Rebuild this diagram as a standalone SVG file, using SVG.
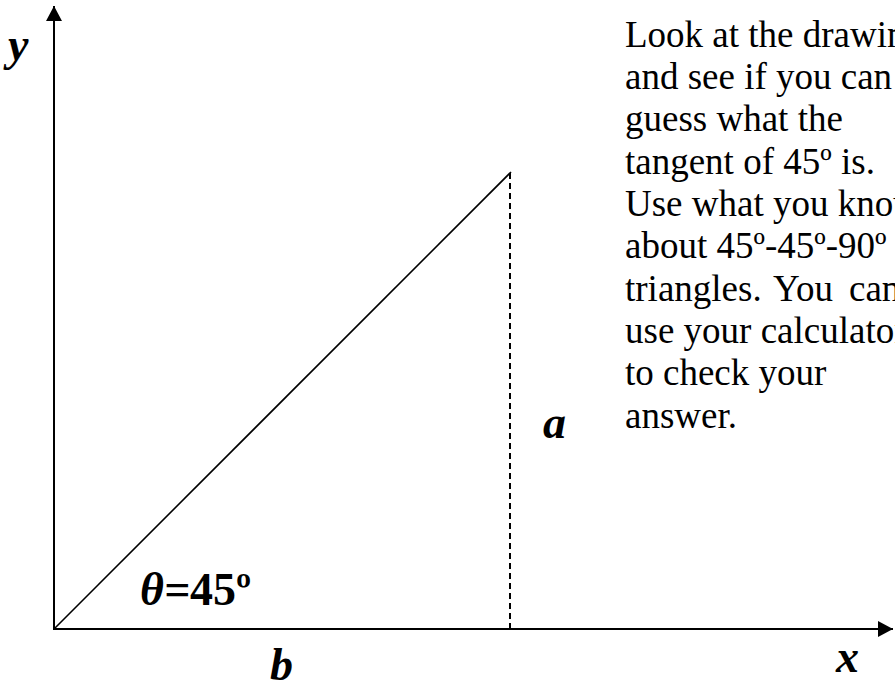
<svg xmlns="http://www.w3.org/2000/svg" width="895" height="685" viewBox="0 0 895 685">
<style>
.axis{stroke:#000;stroke-width:2;fill:none}
.hyp{stroke:#000;stroke-width:1.6;fill:none}
.dash{stroke:#000;stroke-width:2;stroke-dasharray:6 4;fill:none}
.lbl{font-family:"Liberation Serif","Times New Roman",serif;font-weight:bold;font-style:italic;font-size:46px;fill:#000}
.body{font-family:"Liberation Serif","Times New Roman",serif;font-size:37px;fill:#000}
</style>
<defs>
<marker id="ah" markerWidth="16" markerHeight="16" refX="15" refY="8" orient="auto" markerUnits="userSpaceOnUse">
<path d="M0,0 L15,8 L0,16 Z" fill="#000"/>
</marker>
</defs>
<rect width="895" height="685" fill="#fff"/>
<g id="connectors">
<line id="y-axis" class="axis" x1="54" y1="630" x2="54" y2="6" marker-end="url(#ah)"/>
<line id="x-axis" class="axis" x1="53" y1="629" x2="893" y2="629" marker-end="url(#ah)"/>
<line id="hypotenuse" class="hyp" x1="54" y1="629" x2="511" y2="172"/>
<line id="side-a" class="dash" x1="510" y1="173" x2="510" y2="629"/>
</g>
<g id="label-y"><text class="lbl" x="8" y="60">y</text></g>
<g id="label-x"><text class="lbl" x="836" y="672">x</text></g>
<g id="label-b"><text class="lbl" x="270" y="680">b</text></g>
<g id="label-a"><text class="lbl" x="543" y="438">a</text></g>
<g id="label-theta"><text class="lbl" x="140" y="605">θ=<tspan font-style="normal">45º</tspan></text></g>
<g id="note">
<text class="body" x="625" y="47">Look at the drawing</text>
<text class="body" x="625" y="89">and see if you can</text>
<text class="body" x="625" y="131">guess what the</text>
<text class="body" x="625" y="174">tangent of 45º is.</text>
<text class="body" x="625" y="216">Use what you know</text>
<text class="body" x="625" y="258">about 45º-45º-90º</text>
<text class="body" x="625" y="301"><tspan>triangles.</tspan><tspan x="773">You</tspan><tspan x="849">can</tspan></text>
<text class="body" x="625" y="343">use your calculator</text>
<text class="body" x="625" y="385">to check your</text>
<text class="body" x="625" y="428">answer.</text>
</g>
</svg>
